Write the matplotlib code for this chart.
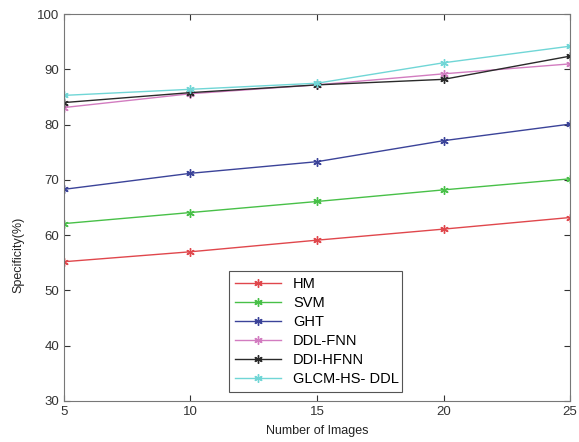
import numpy as np
import matplotlib
matplotlib.use("Agg")
import matplotlib.pyplot as plt

plt.rcParams['font.family'] = ['Liberation Sans', 'DejaVu Sans']

############################################
### data
images   = [5, 10, 15, 20, 25]
hm       = [55.2, 57.0, 59.1, 61.1, 63.2]
svm      = [62.1, 64.1, 66.1, 68.2, 70.2]
ght      = [68.3, 71.2, 73.3, 77.1, 80.1]
ddl_fnn  = [83.1, 85.6, 87.2, 89.2, 91.0]
ddi_hfnn = [84.0, 85.8, 87.2, 88.2, 92.4]
glcm     = [85.3, 86.4, 87.5, 91.2, 94.2]
names    = ["HM", "SVM", "GHT", "DDL-FNN", "DDI-HFNN", "GLCM-HS- DDL"]
colors   = ["#e0474c", "#48c048", "#3b4399", "#d27cc0", "#2a2a2a", "#70d6d6"]
############################################

fig = plt.figure(figsize=(5.79, 4.42), dpi=100)
ax = fig.add_axes([0.1105, 0.0928, 0.874, 0.8752])

series = [hm, svm, ght, ddl_fnn, ddi_hfnn, glcm]
for vals, name, col in zip(series, names, colors):
    ax.plot(images, vals, color=col, linewidth=1.0, marker=(6, 2, 0),
            markersize=6, markeredgewidth=1.0, label=name)

ax.set_xlim(5, 25)
ax.set_ylim(30, 100)
ax.set_xticks(images)
ax.set_yticks(np.arange(30, 101, 10))
ax.tick_params(direction="in", top=True, right=True, labelsize=9.5,
               colors="#333333", length=4)
for s in ax.spines.values():
    s.set_color("#777777")
    s.set_linewidth(0.8)
ax.set_xlabel("Number of Images", fontsize=9, color="#222222", labelpad=5)
ax.set_ylabel("Specificity(%)", fontsize=9, color="#222222")
ax.yaxis.set_label_coords(-0.078, 0.377)

leg = ax.legend(loc="lower left", bbox_to_anchor=(0.326, 0.023, 0.342, 0.336),
                mode="expand", fontsize=10.5, fancybox=False, framealpha=1,
                handlelength=3.2, borderaxespad=0, labelspacing=0.35)
leg.get_frame().set_edgecolor("#555555")
leg.get_frame().set_linewidth(0.8)

plt.savefig("out.png", dpi=100)
